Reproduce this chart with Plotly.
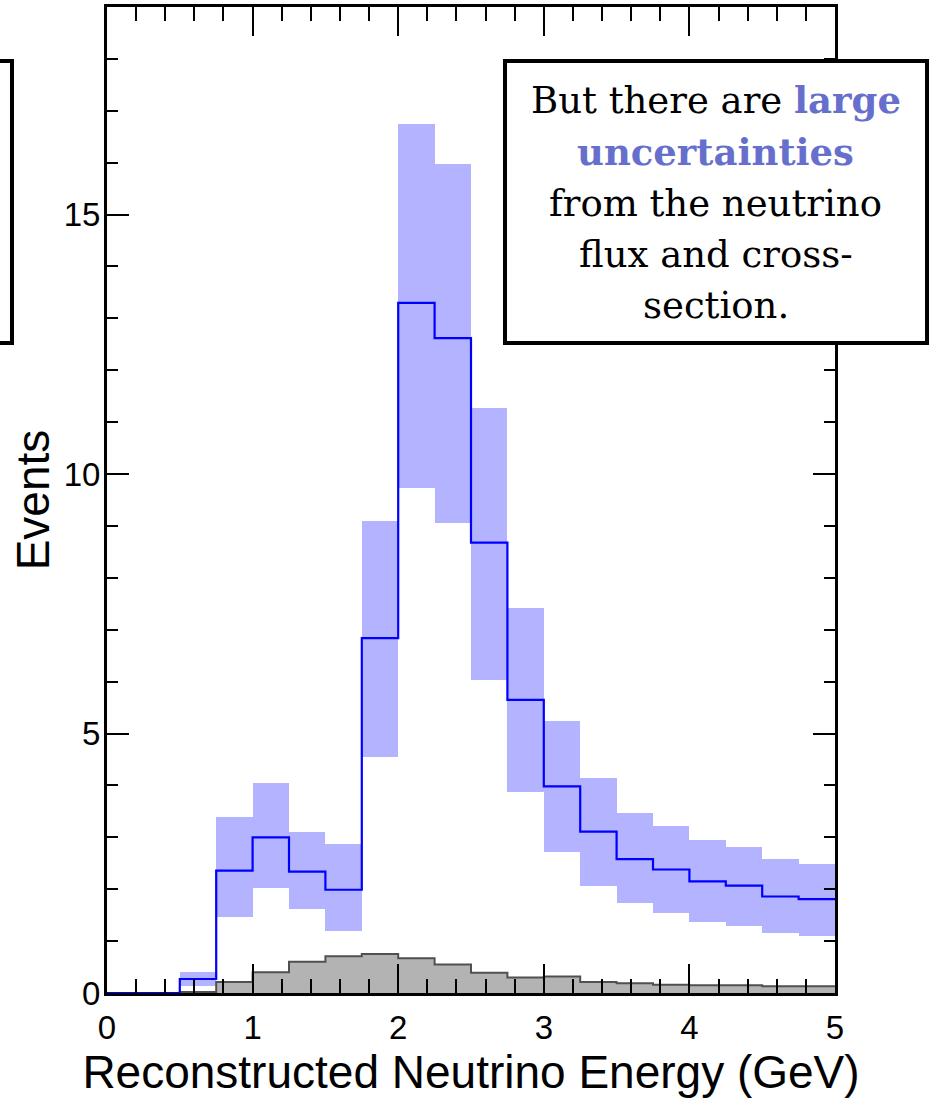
import plotly.graph_objects as go

# Reconstructed neutrino energy bins (GeV), 0.25 GeV wide
bin_low = [0.00, 0.25, 0.50, 0.75, 1.00, 1.25, 1.50, 1.75, 2.00, 2.25,
           2.50, 2.75, 3.00, 3.25, 3.50, 3.75, 4.00, 4.25, 4.50, 4.75]
bin_width = 0.25

# Predicted event counts per bin
prediction = [0.0, 0.0, 0.27, 2.36, 3.00, 2.34, 1.99, 6.84, 13.30, 12.62,
              8.68, 5.65, 3.98, 3.11, 2.58, 2.38, 2.15, 2.07, 1.86, 1.81]

# Uncertainty band (lower / upper edge) per bin
band_low = [0.0, 0.0, 0.13, 1.46, 2.02, 1.61, 1.19, 4.55, 9.73, 9.06,
            6.03, 3.87, 2.72, 2.06, 1.73, 1.54, 1.37, 1.29, 1.16, 1.10]
band_high = [0.0, 0.0, 0.40, 3.40, 4.04, 3.10, 2.88, 9.10, 16.74, 15.97,
             11.27, 7.41, 5.25, 4.14, 3.46, 3.22, 2.94, 2.82, 2.59, 2.49]

# Background contribution per bin
background = [0.0, 0.0, 0.02, 0.21, 0.40, 0.60, 0.71, 0.75, 0.67, 0.55,
              0.39, 0.30, 0.32, 0.21, 0.19, 0.16, 0.15, 0.15, 0.13, 0.13]

x_ticks = [0, 1, 2, 3, 4, 5]
y_ticks = [0, 5, 10, 15]

# Callout text, one entry per line
callout_lines = [
    "But there are <b><span style='color:#6670cc'>large</span></b>",
    "<b><span style='color:#6670cc'>uncertainties</span></b>",
    "from the neutrino",
    "flux and cross-",
    "section.",
]

BAND = "#b3b3ff"
LINE_BLUE = "#0000ff"
GRAY_FILL = "#b3b3b3"
GRAY_LINE = "#505050"

# step-histogram edges
edges = bin_low + [bin_low[-1] + bin_width]
bin_centers = [b + bin_width / 2 for b in bin_low]


def step_y(vals):
    return list(vals) + [vals[-1]]


fig = go.Figure()

# uncertainty band as boxes from low to high edge
fig.add_trace(go.Bar(
    x=bin_centers,
    base=band_low,
    y=[h - l for h, l in zip(band_high, band_low)],
    width=bin_width,
    marker=dict(color=BAND, line=dict(width=0)),
    showlegend=False,
    hoverinfo="skip",
))

# background histogram, filled
fig.add_trace(go.Scatter(
    x=edges, y=step_y(background),
    mode="lines", line=dict(shape="hv", color=GRAY_LINE, width=2),
    fill="tozeroy", fillcolor=GRAY_FILL,
    showlegend=False, hoverinfo="skip",
))

# central prediction histogram
fig.add_trace(go.Scatter(
    x=edges, y=step_y(prediction),
    mode="lines", line=dict(shape="hv", color=LINE_BLUE, width=2.2),
    showlegend=False, hoverinfo="skip",
))

SANS = "Liberation Sans, Arial, Helvetica, sans-serif"
axis_common = dict(
    showline=True, linecolor="black", linewidth=3, mirror="ticks",
    ticks="inside", tickcolor="black", tickwidth=1.5,
    showgrid=False, zeroline=False,
    tickfont=dict(family=SANS, size=33, color="black"),
    title_font=dict(family=SANS, size=46, color="black"),
)

fig.update_xaxes(
    range=[0, 5], tickvals=x_ticks, ticktext=[str(v) for v in x_ticks],
    ticklen=29,
    minor=dict(dtick=0.2, ticklen=14, tickwidth=1.5, tickcolor="black", ticks="inside"),
    title_text="Reconstructed Neutrino Energy (GeV)", title_standoff=11,
    ticklabelstandoff=3,
    **axis_common,
)
fig.update_yaxes(
    range=[0, 19], tickvals=y_ticks, ticktext=[str(v) for v in y_ticks],
    ticklen=22,
    minor=dict(dtick=1, ticklen=11, tickwidth=1.5, tickcolor="black", ticks="inside"),
    title_text="Events", title_standoff=0,
    ticklabelstandoff=-3,
    **axis_common,
)

# Callout box on the right
fig.add_shape(type="rect", xref="paper", yref="paper",
              x0=0.5467, x1=1.1264, y0=0.6592, y1=0.9452,
              line=dict(color="black", width=4), fillcolor="white", layer="above")
# Edge of the neighbouring box on the left
fig.add_shape(type="rect", xref="paper", yref="paper",
              x0=-0.30, x1=-0.1305, y0=0.6592, y1=0.9452,
              line=dict(color="black", width=4), fillcolor="white", layer="above")

# callout text, placed line by line (pixel row of each line centre)
plot_top_px, plot_h_px = 7, 986
line_centres_px = [100, 151.5, 203, 254.5, 305]
for txt, ypx in zip(callout_lines, line_centres_px):
    fig.add_annotation(
        xref="paper", yref="paper", x=0.8365,
        y=1 - (ypx - plot_top_px) / plot_h_px,
        xanchor="center", yanchor="middle", showarrow=False, align="center",
        font=dict(family="DejaVu Serif, Georgia, serif", size=37, color="black"),
        text=txt,
    )

fig.update_layout(
    width=934, height=1101,
    margin=dict(l=107, r=99, t=7, b=108, autoexpand=False),
    paper_bgcolor="white", plot_bgcolor="white",
    bargap=0, barmode="overlay",
    showlegend=False,
)

fig.write_html("out.html")
